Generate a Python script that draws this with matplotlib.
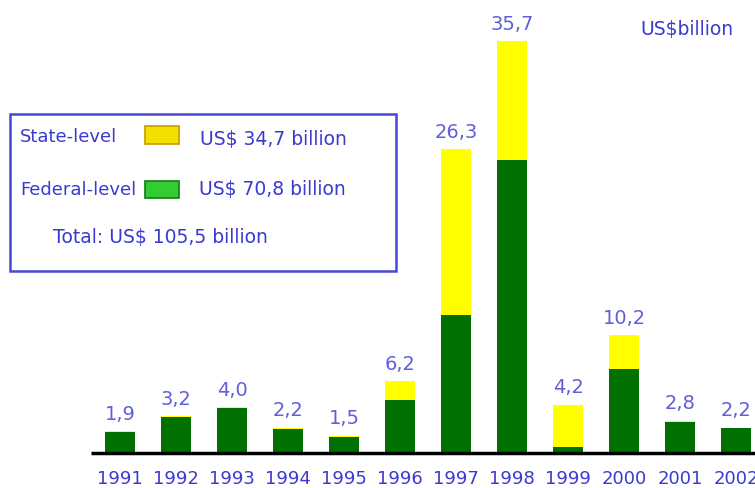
import matplotlib
matplotlib.use('Agg')
import matplotlib.pyplot as plt
from matplotlib.patches import Rectangle

years = ['1991', '1992', '1993', '1994', '1995', '1996',
         '1997', '1998', '1999', '2000', '2001', '2002']
totals = [1.9, 3.2, 4.0, 2.2, 1.5, 6.2, 26.3, 35.7, 4.2, 10.2, 2.8, 2.2]
federal = [1.8, 3.1, 3.9, 2.1, 1.4, 4.6, 12.0, 25.4, 0.5, 7.3, 2.7, 2.2]
state = [0.1, 0.1, 0.1, 0.1, 0.1, 1.6, 14.3, 10.3, 3.7, 2.9, 0.1, 0.0]
total_labels = ['1,9', '3,2', '4,0', '2,2', '1,5', '6,2',
                '26,3', '35,7', '4,2', '10,2', '2,8', '2,2']

W, H = 755, 489
GREEN = '#007000'
YELLOW = '#ffff00'
BLUE = '#3a3ad0'
LIGHT_BLUE = '#5f5fdc'


def fx(px):
    return px / W


def fy(py):
    return (H - py) / H


fig = plt.figure(figsize=(W / 100, H / 100), dpi=100)
ax = fig.add_axes([0, 0, 1, 1])

# map data coords to the reference pixel layout
step = 56.0
x0 = 120.0
base = 454.0
unit = 11.54
ax.set_xlim((0 - x0) / step, (W - x0) / step)
ax.set_ylim(-(H - base) / unit, base / unit)
ax.axis('off')

x = list(range(len(years)))
ax.bar(x, federal, width=0.54, color=GREEN, edgecolor='none', zorder=2)
ax.bar(x, state, width=0.54, bottom=federal, color=YELLOW, edgecolor='none', zorder=2)

ax.hlines(0, (91 - x0) / step, (W - x0) / step, color='black', lw=2.5, zorder=3)

for i, t in enumerate(totals):
    ax.annotate(total_labels[i], (i, t), xytext=(0, 6), textcoords='offset points',
                ha='center', va='bottom', fontsize=14, color=LIGHT_BLUE)
    fig.text(fx(x0 + step * i), fy(479), years[i], ha='center', va='center',
             fontsize=13, color=BLUE)

fig.text(fx(640), fy(30), 'US$billion', ha='left', va='center', fontsize=13.5, color=BLUE)

# legend box
fig.patches.append(Rectangle((fx(10), fy(272)), fx(386), 157 / H, transform=fig.transFigure,
                             fill=False, edgecolor='#4848d8', lw=1.8))
fig.text(fx(20), fy(137), 'State-level', ha='left', va='center', fontsize=13, color=BLUE)
fig.patches.append(Rectangle((fx(145), fy(145)), fx(34), 18 / H, transform=fig.transFigure,
                             facecolor='#f2e000', edgecolor='#c89a00', lw=1.2))
fig.text(fx(200), fy(140), 'US$ 34,7 billion', ha='left', va='center', fontsize=13.5, color=BLUE)
fig.text(fx(20), fy(190), 'Federal-level', ha='left', va='center', fontsize=13, color=BLUE)
fig.patches.append(Rectangle((fx(145), fy(199)), fx(34), 17 / H, transform=fig.transFigure,
                             facecolor='#33cc33', edgecolor='#157a15', lw=1.2))
fig.text(fx(199), fy(190), 'US$ 70,8 billion', ha='left', va='center', fontsize=13.5, color=BLUE)
fig.text(fx(53), fy(238), 'Total: US$ 105,5 billion', ha='left', va='center', fontsize=13.5, color=BLUE)

fig.savefig('out.png', dpi=100, facecolor='white')
